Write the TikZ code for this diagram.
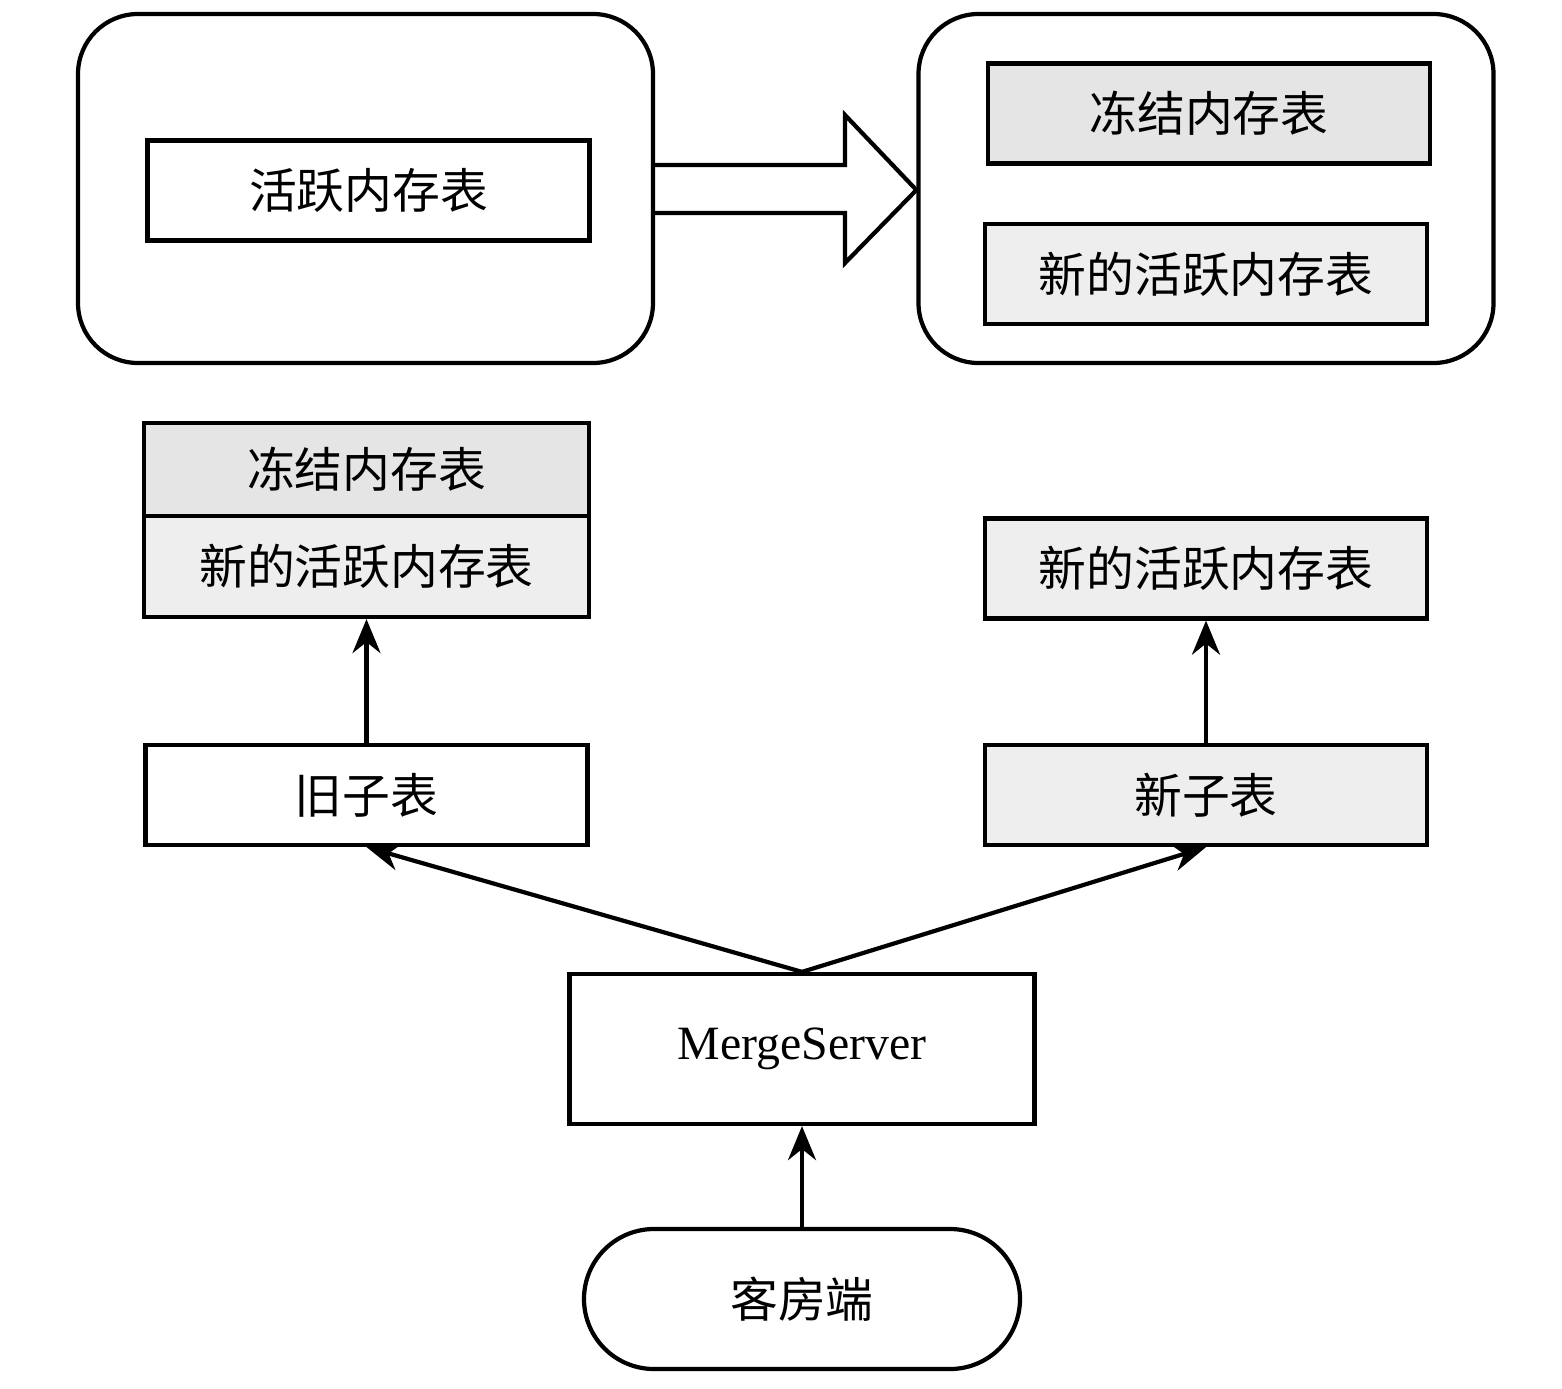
\documentclass[tikz,border=0pt]{standalone}
\usepackage{fontspec}
\setmainfont{Liberation Serif}
\newfontfamily\cjk{Noto Sans CJK SC}
\usetikzlibrary{arrows.meta}
\tikzset{
  table/.style={draw, line width=1.2pt, minimum width=4.42cm, minimum height=1cm, font=\cjk\fontsize{13.6}{16}\selectfont},
  frozen/.style={table, fill=gray!20},
  fresh/.style={table, fill=gray!13},
  group/.style={draw, line width=1.2pt, rounded corners=0.6cm, minimum width=5.75cm, minimum height=3.49cm},
  link/.style={-{Stealth[length=0.34cm, width=0.28cm]}, line width=1.2pt}
}
\begin{document}
\begin{tikzpicture}
\useasboundingbox (0,0) rectangle (15.62,-13.88);

% Before and after freezing
\node[group] (before) at (3.655,-1.885) {};
\node[group] (after) at (12.06,-1.885) {};
\node[table, fill=white] (active) at (3.685,-1.905) {活跃内存表};
\node[frozen] (frozenA) at (12.09,-1.135) {冻结内存表};
\node[fresh] (newA) at (12.06,-2.74) {新的活跃内存表};

% Hollow arrow
\draw[line width=1.2pt, line join=miter] (before.east |- 0,-1.65) -- (8.45,-1.65) -- (8.45,-1.15)
  -- (after.west |- 0,-1.90) -- (8.45,-2.63) -- (8.45,-2.13) -- (before.east |- 0,-2.13);

% Reading tables
\node[frozen, minimum width=4.45cm, minimum height=0.93cm] (frozenB) at (3.665,-4.695) {冻结内存表};
\node[fresh, minimum width=4.45cm, minimum height=1.01cm] (newB) at (3.665,-5.665) {新的活跃内存表};
\node[fresh] (newC) at (12.06,-5.685) {新的活跃内存表};
\node[table, fill=white] (oldtab) at (3.665,-7.95) {旧子表};
\node[fresh] (newtab) at (12.06,-7.95) {新子表};

% Server and client
\node[draw, line width=1.2pt, minimum width=4.65cm, minimum height=1.5cm, font=\fontsize{13.6}{16}\selectfont] (merge) at (8.02,-10.49) {MergeServer};
\node[draw, line width=1.2pt, rounded corners=0.7cm, minimum width=4.36cm, minimum height=1.4cm, font=\cjk\fontsize{13.6}{16}\selectfont] (client) at (8.02,-12.99) {客房端};

% Requests
\draw[link] (client.north) -- (merge.south);
\draw[link] (merge.north) -- (oldtab.south);
\draw[link] (merge.north) -- (newtab.south);
\draw[link] (oldtab.north) -- (newB.south);
\draw[link] (newtab.north) -- (newC.south);
\end{tikzpicture}
\end{document}
